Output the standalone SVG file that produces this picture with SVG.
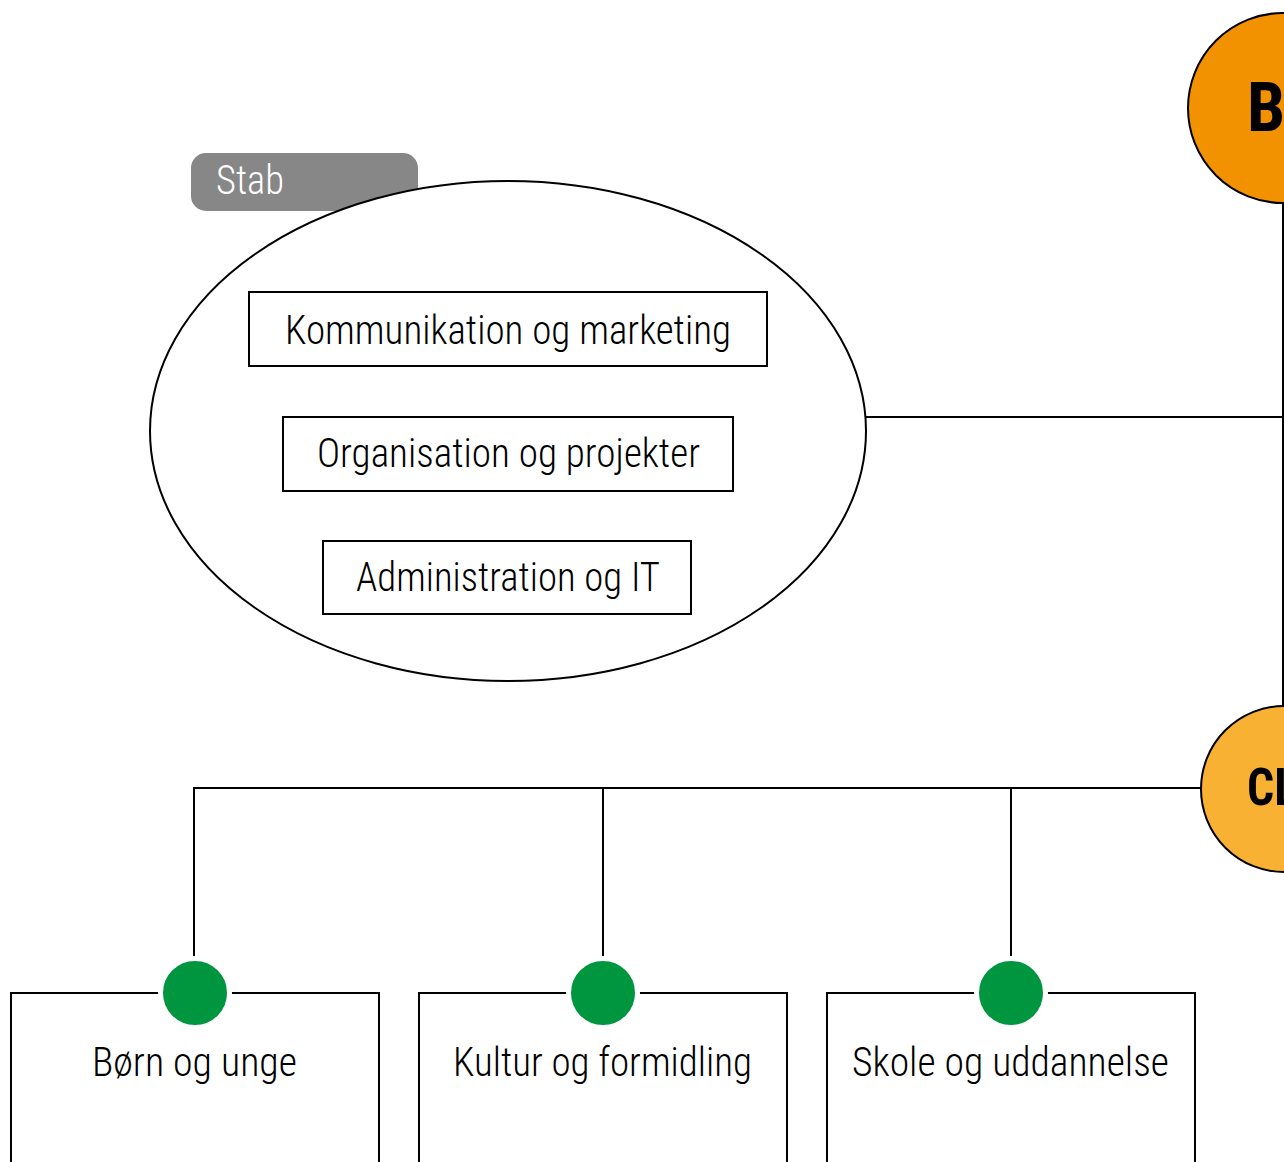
<svg xmlns="http://www.w3.org/2000/svg" width="1284" height="1162" viewBox="0 0 1284 1162">
<style>
.ln{fill:none;stroke:#000;stroke-width:2}
.box{fill:#fff;stroke:#000;stroke-width:2}
.t{font-family:"Roboto Condensed","Roboto","Liberation Sans",Arial,sans-serif;font-weight:300;font-size:40px;fill:#000}
.big{font-family:"Roboto Condensed","Liberation Sans",Arial,sans-serif;font-weight:bold;fill:#000}
.dot{fill:#009640;stroke:#fff;stroke-width:5}
</style>
<rect width="1284" height="1162" fill="#fff"/>
<g id="connectors">
<line class="ln" x1="865" y1="417" x2="1283" y2="417"/>
<line class="ln" x1="1283" y1="200" x2="1283" y2="710"/>
<line class="ln" x1="194" y1="788" x2="1205" y2="788"/>
<line class="ln" x1="194" y1="787" x2="194" y2="993"/>
<line class="ln" x1="603" y1="788" x2="603" y2="993"/>
<line class="ln" x1="1011" y1="788" x2="1011" y2="993"/>
</g>
<g id="stab">
<rect x="191" y="153" width="227" height="58" rx="15" fill="#878787"/>
<text x="216" y="194" class="t" style="fill:#fff" textLength="68" lengthAdjust="spacingAndGlyphs">Stab</text>
<ellipse cx="508" cy="431" rx="358" ry="250" class="box"/>
</g>
<g id="kommunikation">
<rect x="249" y="292" width="518" height="74" class="box"/>
<text x="285" y="344" class="t" textLength="446" lengthAdjust="spacingAndGlyphs">Kommunikation og marketing</text>
</g>
<g id="organisation">
<rect x="283" y="417" width="450" height="74" class="box"/>
<text x="317" y="467" class="t" textLength="383" lengthAdjust="spacingAndGlyphs">Organisation og projekter</text>
</g>
<g id="administration">
<rect x="323" y="541" width="368" height="73" class="box"/>
<text x="356" y="591" class="t" textLength="304" lengthAdjust="spacingAndGlyphs">Administration og IT</text>
</g>
<g id="b-node">
<circle cx="1283" cy="108" r="95" fill="#F39200" stroke="#000" stroke-width="2"/>
<text x="1247" y="131" class="big" font-size="68">B</text>
</g>
<g id="cl-node">
<circle cx="1284" cy="789" r="83" fill="#F8B133" stroke="#000" stroke-width="2"/>
<text x="1247" y="805" class="big" font-size="52" textLength="50" lengthAdjust="spacingAndGlyphs">CL</text>
</g>
<g id="born">
<rect x="11" y="993" width="368" height="200" class="box"/>
<circle cx="195" cy="993" r="34.5" class="dot"/>
<text x="92" y="1076" class="t" textLength="205" lengthAdjust="spacingAndGlyphs">Børn og unge</text>
</g>
<g id="kultur">
<rect x="419" y="993" width="368" height="200" class="box"/>
<circle cx="603" cy="993" r="34.5" class="dot"/>
<text x="453" y="1076" class="t" textLength="299" lengthAdjust="spacingAndGlyphs">Kultur og formidling</text>
</g>
<g id="skole">
<rect x="827" y="993" width="368" height="200" class="box"/>
<circle cx="1011" cy="993" r="34.5" class="dot"/>
<text x="852" y="1076" class="t" textLength="317" lengthAdjust="spacingAndGlyphs">Skole og uddannelse</text>
</g>
</svg>
